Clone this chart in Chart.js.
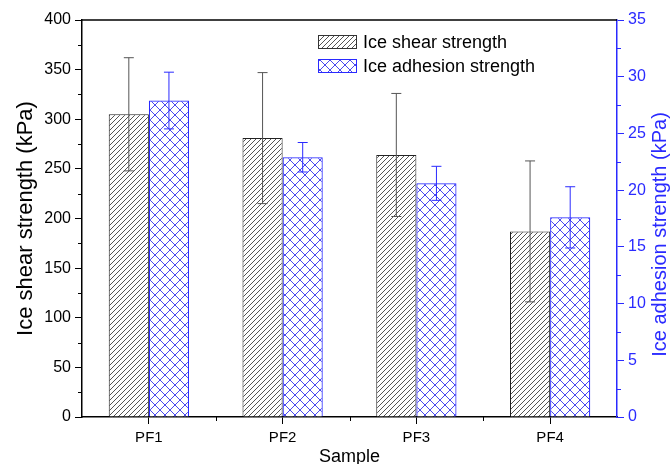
<!DOCTYPE html>
<html>
<head>
<meta charset="utf-8">
<script src="https://cdn.jsdelivr.net/npm/chart.js@4.4.0/dist/chart.umd.min.js"></script>
<style>
  html, body { margin: 0; padding: 0; background: #fff; }
  #wrap { width: 671px; height: 464px; }
</style>
</head>
<body>
<div id="wrap"><canvas id="ice_chart" width="671" height="464"></canvas></div>
<script>
const samples = ["PF1", "PF2", "PF3", "PF4"];
const shearStrength = [305, 281, 264, 187];
const shearError = [57, 66, 62, 71];
const adhesionStrength = [27.9, 22.9, 20.6, 17.6];
const adhesionError = [2.5, 1.3, 1.5, 2.7];
const shearTicks = [0, 50, 100, 150, 200, 250, 300, 350, 400];
const adhesionTicks = [0, 5, 10, 15, 20, 25, 30, 35];

const BLUE = "#2a2aff";
const FONT = "'Liberation Sans', Arial, sans-serif";

function makeHatch(color, size, cross) {
    let c = document.createElement("canvas");
    c.width = size; c.height = size;
    let g = c.getContext("2d");
    g.fillStyle = "#fff";
    g.fillRect(0, 0, size, size);
    g.strokeStyle = color;
    g.lineWidth = 1;
    g.beginPath();
    g.moveTo(-1, size + 1); g.lineTo(size + 1, -1);
    g.moveTo(-1, 1); g.lineTo(1, -1);
    g.moveTo(size - 1, size + 1); g.lineTo(size + 1, size - 1);
    if (cross) {
        g.moveTo(-1, -1); g.lineTo(size + 1, size + 1);
        g.moveTo(size - 1, -1); g.lineTo(size + 1, 1);
        g.moveTo(-1, size - 1); g.lineTo(1, size + 1);
    }
    g.stroke();
    return g.createPattern(c, "repeat");
}

const shearFill = makeHatch("#555", 5, false);
const adhesionFill = makeHatch("#4a4aee", 10, true);

// error bars, minor ticks, top frame, legend and right title
const extras = {
    id: "extras",
    afterDatasetsDraw(chart) {
        let ctx = chart.ctx;
        let errs = [shearError, adhesionError];
        let cols = ["#555", BLUE];
        chart.data.datasets.forEach((ds, di) => {
            let meta = chart.getDatasetMeta(di);
            let sc = chart.scales[ds.yAxisID];
            meta.data.forEach((bar, i) => {
                let v = ds.data[i], e = errs[di][i];
                let top = sc.getPixelForValue(v + e);
                let bot = sc.getPixelForValue(v - e);
                ctx.save();
                ctx.strokeStyle = cols[di];
                ctx.lineWidth = 1;
                ctx.beginPath();
                ctx.moveTo(bar.x, top); ctx.lineTo(bar.x, bot);
                ctx.moveTo(bar.x - 5, top); ctx.lineTo(bar.x + 5, top);
                ctx.moveTo(bar.x - 5, bot); ctx.lineTo(bar.x + 5, bot);
                ctx.stroke();
                ctx.restore();
            });
        });
    },
    afterDraw(chart) {
        let ctx = chart.ctx;
        let a = chart.chartArea;
        let y = chart.scales.y, y1 = chart.scales.y1, x = chart.scales.x;
        ctx.save();
        ctx.lineWidth = 1.5;
        ctx.strokeStyle = "#000";
        ctx.beginPath();
        ctx.moveTo(a.left, a.top); ctx.lineTo(a.right, a.top);
        ctx.stroke();

        ctx.lineWidth = 1;
        ctx.beginPath();
        for (let v = 25; v < 400; v += 50) {
            let p = Math.round(y.getPixelForValue(v)) + 0.5;
            ctx.moveTo(a.left - 4, p); ctx.lineTo(a.left, p);
        }
        for (let i = 0.5; i < samples.length - 1; i += 1) {
            let p = Math.round(x.getPixelForValue(i)) + 0.5;
            ctx.moveTo(p, a.bottom); ctx.lineTo(p, a.bottom + 4);
        }
        ctx.stroke();

        ctx.strokeStyle = BLUE;
        ctx.beginPath();
        for (let v = 2.5; v < 35; v += 5) {
            let p = Math.round(y1.getPixelForValue(v)) + 0.5;
            ctx.moveTo(a.right, p); ctx.lineTo(a.right + 4, p);
        }
        ctx.stroke();

        // legend
        let items = [
            { label: chart.data.datasets[0].label, fill: shearFill, stroke: "#333", ty: 35 },
            { label: chart.data.datasets[1].label, fill: adhesionFill, stroke: BLUE, ty: 59 }
        ];
        ctx.font = "18px " + FONT;
        ctx.textBaseline = "middle";
        items.forEach(it => {
            ctx.fillStyle = it.fill;
            ctx.fillRect(318, it.ty, 39, 14);
            ctx.strokeStyle = it.stroke;
            ctx.lineWidth = 1;
            ctx.strokeRect(318.5, it.ty + 0.5, 38, 13);
            ctx.fillStyle = "#000";
            ctx.fillText(it.label, 363, it.ty + 8);
        });

        // right axis title, reading bottom to top
        ctx.translate(660, (a.top + a.bottom) / 2 + 16);
        ctx.rotate(-Math.PI / 2);
        ctx.fillStyle = BLUE;
        ctx.font = "20px " + FONT;
        ctx.textAlign = "center";
        ctx.fillText("Ice adhesion strength (kPa)", 0, 0);
        ctx.restore();
    }
};

new Chart(document.getElementById("ice_chart"), {
    type: "bar",
    data: {
        labels: samples,
        datasets: [
            {
                label: "Ice shear strength",
                data: shearStrength,
                yAxisID: "y",
                backgroundColor: shearFill,
                borderColor: "#222",
                borderWidth: 1,
                categoryPercentage: 0.6,
                barPercentage: 1.0
            },
            {
                label: "Ice adhesion strength",
                data: adhesionStrength,
                yAxisID: "y1",
                backgroundColor: adhesionFill,
                borderColor: BLUE,
                borderWidth: 1.2,
                categoryPercentage: 0.6,
                barPercentage: 1.0
            }
        ]
    },
    options: {
        responsive: false,
        animation: false,
        layout: { padding: { top: 20, left: 0, right: 0, bottom: 0 } },
        plugins: { legend: { display: false }, tooltip: { enabled: false } },
        scales: {
            x: {
                afterFit: s => { s.height = 47; },
                grid: { offset: false, drawOnChartArea: false, tickLength: 7, tickColor: "#000" },
                border: { color: "#000", width: 1.5 },
                ticks: { color: "#000", padding: 5, font: { family: FONT, size: 15 } },
                title: { display: true, text: "Sample", color: "#000", padding: { top: 0, bottom: -4 }, font: { family: FONT, size: 18 } }
            },
            y: {
                position: "left",
                min: 0, max: 400,
                afterFit: s => { s.width = 82; },
                afterBuildTicks: s => { s.ticks = shearTicks.map(v => ({ value: v })); },
                grid: { drawOnChartArea: false, tickLength: 7, tickColor: "#000" },
                border: { color: "#000", width: 1.5 },
                ticks: { color: "#000", padding: 4, font: { family: FONT, size: 16 } },
                title: { display: true, text: "Ice shear strength (kPa)", color: "#000", padding: { top: 13 }, font: { family: FONT, size: 22 } }
            },
            y1: {
                position: "right",
                min: 0, max: 35,
                afterFit: s => { s.width = 54; },
                afterBuildTicks: s => { s.ticks = adhesionTicks.map(v => ({ value: v })); },
                grid: { drawOnChartArea: false, tickLength: 7, tickColor: BLUE },
                border: { color: BLUE, width: 1.5 },
                ticks: { color: BLUE, padding: 4, font: { family: FONT, size: 16 } }
            }
        }
    },
    plugins: [extras]
});
</script>
</body>
</html>
